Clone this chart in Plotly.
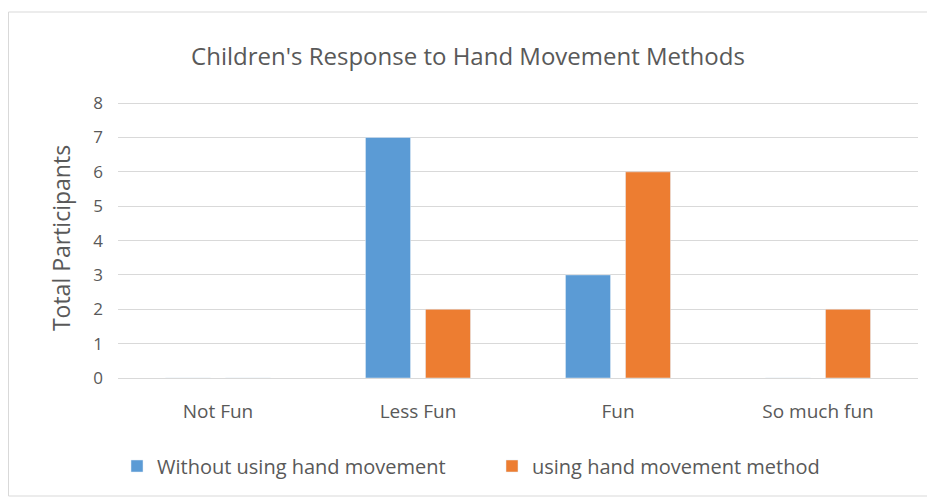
import plotly.graph_objects as go

categories = ["Not Fun", "Less Fun", "Fun", "So much fun"]
series_names = ["Without using hand movement", "using hand movement method"]
without_vals = [0, 7, 3, 0]
with_vals = [0, 2, 6, 2]
y_ticks = [0, 1, 2, 3, 4, 5, 6, 7, 8]

colors = ["#5B9BD5", "#ED7D31"]
font_family = "Open Sans, Liberation Sans, sans-serif"
gray = "#595959"

fig = go.Figure()
fig.add_trace(go.Bar(x=categories, y=without_vals, name=series_names[0], marker_color=colors[0]))
fig.add_trace(go.Bar(x=categories, y=with_vals, name=series_names[1], marker_color=colors[1]))

W, H = 927, 489
ymax = 8.15
base = 370
L, R, B = 110, 17, H - 370
ph = 275 * ymax / 8
T = int(round(base - ph))
ph = base - T
pw = W - L - R

fig.update_layout(
    width=W, height=H,
    margin=dict(l=L, r=R, t=T, b=B),
    paper_bgcolor="white", plot_bgcolor="white",
    barmode="group", bargap=0.4, bargroupgap=0.25,
    font=dict(family=font_family, color=gray, size=16),
    title=dict(text="Children's Response to Hand Movement Methods",
               x=460 / W, xanchor="center", y=1 - 49 / H, yanchor="middle",
               font=dict(size=24, color=gray, family=font_family)),
    xaxis=dict(showgrid=False, showline=False, ticks="", ticklabelstandoff=20,
               tickfont=dict(size=19, color=gray)),
    yaxis=dict(range=[0, ymax], tickvals=y_ticks, showgrid=True, gridcolor="#d9d9d9",
               gridwidth=1, zeroline=True, zerolinecolor="#d9d9d9", zerolinewidth=1,
               ticks="", ticklabelstandoff=14, tickfont=dict(size=17, color=gray),
               title=dict(text="Total Participants", font=dict(size=23, color=gray), standoff=16)),
    legend=dict(orientation="h", x=(109 - L) / pw, xanchor="left", y=(base - 458) / ph,
                yanchor="middle", font=dict(size=20, color=gray), itemwidth=30,
                entrywidth=330, traceorder="normal"),
    shapes=[dict(type="rect", xref="paper", yref="paper",
                 x0=(0.5 - L) / pw, x1=(925 - L) / pw,
                 y0=(base - 488) / ph, y1=(base - 4) / ph,
                 line=dict(color="#d9d9d9", width=1), fillcolor="rgba(0,0,0,0)", layer="below")],
)

fig.write_html("out.html")
